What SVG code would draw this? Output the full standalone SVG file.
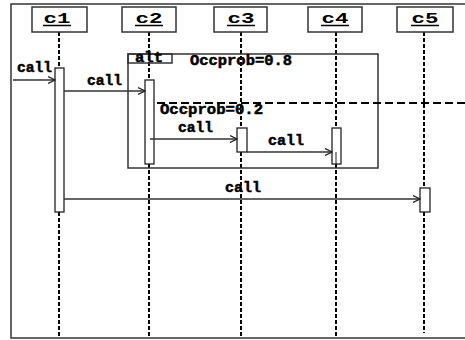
<svg xmlns="http://www.w3.org/2000/svg" width="465" height="340" viewBox="0 0 465 340">
<defs>
<marker id="arr" markerWidth="8" markerHeight="8" refX="7" refY="4" orient="auto" markerUnits="userSpaceOnUse">
<path d="M0,0.5 L7,4 L0,7.5" fill="none" stroke="#222" stroke-width="1.2"/>
</marker>
<style>
.frame{fill:none;stroke:#333;stroke-width:1.5}
.box{fill:#fff;stroke:#333;stroke-width:1.5}
.life{stroke:#000;stroke-width:2;stroke-dasharray:4 2}
.act{fill:#fff;stroke:#222;stroke-width:1.3}
.msg{stroke:#333;stroke-width:1.3;fill:none}
.cls{font-family:"Liberation Mono",monospace;font-weight:bold;font-size:15px;fill:#000;text-anchor:middle}
.lbl{font-family:"Liberation Mono",monospace;font-weight:bold;font-size:14.5px;fill:#000;stroke:#000;stroke-width:0.5}
.ul{stroke:#000;stroke-width:1.5}
</style>
</defs>
<rect width="465" height="340" fill="#fff"/>
<g id="outer-frame">
<path class="frame" d="M465,4 H11 V338 H465"/>
</g>
<g id="lifelines">
<line class="life" x1="59" y1="32" x2="59" y2="338"/>
<line class="life" x1="149" y1="32" x2="149" y2="338"/>
<line class="life" x1="241" y1="32" x2="241" y2="338"/>
<line class="life" x1="336" y1="32" x2="336" y2="338"/>
<line class="life" x1="424" y1="32" x2="424" y2="333"/>
</g>
<g id="c1"><rect class="box" x="32" y="7" width="55" height="25"/><text class="cls" x="57" y="23" textLength="27" lengthAdjust="spacingAndGlyphs">c1</text><line class="ul" x1="43" y1="25.5" x2="71" y2="25.5"/></g>
<g id="c2"><rect class="box" x="122" y="7" width="54" height="25"/><text class="cls" x="149" y="23" textLength="27" lengthAdjust="spacingAndGlyphs">c2</text><line class="ul" x1="135" y1="25.5" x2="163" y2="25.5"/></g>
<g id="c3"><rect class="box" x="214" y="7" width="53" height="25"/><text class="cls" x="241" y="23" textLength="27" lengthAdjust="spacingAndGlyphs">c3</text><line class="ul" x1="227" y1="25.5" x2="255" y2="25.5"/></g>
<g id="c4"><rect class="box" x="308" y="7" width="54" height="25"/><text class="cls" x="335" y="23" textLength="27" lengthAdjust="spacingAndGlyphs">c4</text><line class="ul" x1="321" y1="25.5" x2="349" y2="25.5"/></g>
<g id="c5"><rect class="box" x="397" y="7" width="56" height="25"/><text class="cls" x="425" y="23" textLength="27" lengthAdjust="spacingAndGlyphs">c5</text><line class="ul" x1="411" y1="25.5" x2="439" y2="25.5"/></g>
<g id="alt-frame">
<rect class="frame" x="128" y="54" width="250" height="114"/>
<rect class="frame" x="128" y="54" width="44" height="9"/>
<text class="lbl" x="135" y="62" textLength="28" lengthAdjust="spacingAndGlyphs">alt</text>
<text class="lbl" x="190" y="65" textLength="102" lengthAdjust="spacingAndGlyphs">Occprob=0.8</text>
<line x1="145" y1="103" x2="465" y2="103" stroke="#000" stroke-width="2" stroke-dasharray="8 4"/>
<text class="lbl" x="160" y="114" textLength="103" lengthAdjust="spacingAndGlyphs">Occprob=0.2</text>
</g>
<g id="activations">
<rect class="act" x="55" y="68" width="9" height="144"/>
<rect class="act" x="145" y="80" width="9" height="84"/>
<rect class="act" x="237" y="128" width="10" height="24"/>
<rect class="act" x="332" y="128" width="9" height="36"/>
<line x1="336" y1="152" x2="336" y2="164" stroke="#222" stroke-width="1"/>
<rect class="act" x="420" y="188" width="10" height="24"/>
</g>
<g id="connectors">
<line class="msg" x1="13" y1="80" x2="55" y2="80" marker-end="url(#arr)"/>
<line class="msg" x1="64" y1="91" x2="145" y2="91" marker-end="url(#arr)"/>
<line class="msg" x1="150" y1="139" x2="237" y2="139" marker-end="url(#arr)"/>
<line class="msg" x1="247" y1="152" x2="332" y2="152" marker-end="url(#arr)"/>
<line class="msg" x1="64" y1="199" x2="420" y2="199" marker-end="url(#arr)"/>
<text class="lbl" x="17" y="72" textLength="35" lengthAdjust="spacingAndGlyphs">call</text>
<text class="lbl" x="87" y="85" textLength="35" lengthAdjust="spacingAndGlyphs">call</text>
<text class="lbl" x="178" y="132" textLength="35" lengthAdjust="spacingAndGlyphs">call</text>
<text class="lbl" x="268" y="145" textLength="36" lengthAdjust="spacingAndGlyphs">call</text>
<text class="lbl" x="225" y="192" textLength="36" lengthAdjust="spacingAndGlyphs">call</text>
</g>
</svg>
